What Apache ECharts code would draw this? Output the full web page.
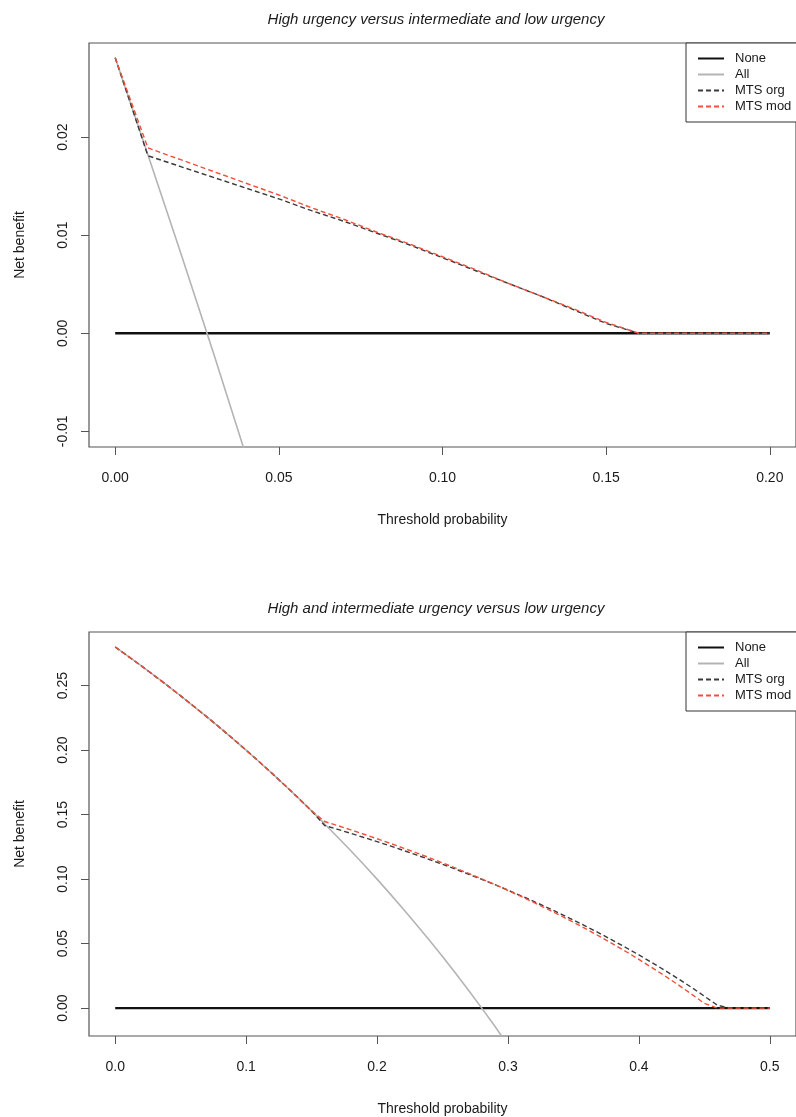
<!DOCTYPE html>
<html>
<head>
<meta charset="utf-8">
<script src="https://cdn.jsdelivr.net/npm/echarts@6/dist/echarts.min.js"></script>
<style>
html,body{margin:0;padding:0;background:#fff;}
#c{width:796px;height:1117px;}
</style>
</head>
<body>
<div id="c"></div>
<script>
// ---------- data: top panel ----------
const titles = ["High urgency versus intermediate and low urgency",
                "High and intermediate urgency versus low urgency"];
const legendNames = ["None", "All", "MTS org", "MTS mod"];

const t1 = [0.00,0.01,0.02,0.03,0.04,0.05,0.06,0.07,0.08,0.09,0.10,
            0.11,0.12,0.13,0.14,0.15,0.16,0.17,0.18,0.19,0.20];
const none1 = [0,0,0,0,0,0,0,0,0,0,0,0,0,0,0,0,0,0,0,0,0];
const all1x = [0.00,0.01,0.02,0.03,0.04,0.05];
const all1 = [0.0281,0.0182,0.0082,-0.0020,-0.0125,-0.0232];
const org1 = [0.0281,0.0181,0.0170,0.0159,0.0148,0.0137,0.0125,0.0114,0.0102,0.0090,0.0077,
              0.0064,0.0051,0.0038,0.0024,0.0010,0,0,0,0,0];
const mod1 = [0.0281,0.0189,0.0177,0.0165,0.0153,0.0141,0.0128,0.0116,0.0103,0.0091,0.0078,
              0.0065,0.0051,0.0038,0.0025,0.0011,0,0,0,0,0];
const xTicks1 = [0.00,0.05,0.10,0.15,0.20];
const yTicks1 = [-0.01,0.00,0.01,0.02];

// ---------- data: bottom panel ----------
const t2 = [0.00,0.01,0.02,0.03,0.04,0.05,0.06,0.07,0.08,0.09,0.10,
            0.11,0.12,0.13,0.14,0.15,0.16,0.17,0.18,0.19,0.20,
            0.21,0.22,0.23,0.24,0.25,0.26,0.27,0.28,0.29,0.30,
            0.31,0.32,0.33,0.34,0.35,0.36,0.37,0.38,0.39,0.40,
            0.41,0.42,0.43,0.44,0.45,0.46,0.47,0.48,0.49,0.50];
const none2 = [0,0,0,0,0,0,0,0,0,0,0,0,0,0,0,0,0,0,0,0,0,0,0,0,0,0,
               0,0,0,0,0,0,0,0,0,0,0,0,0,0,0,0,0,0,0,0,0,0,0,0,0];
const all2 = [0.2800,0.2727,0.2653,0.2577,0.2500,0.2421,0.2340,0.2258,0.2174,0.2088,0.2000,
              0.1910,0.1818,0.1724,0.1628,0.1529,0.1428,0.1325,0.1220,0.1111,0.1000,
              0.0886,0.0769,0.0649,0.0526,0.0400,0.0270,0.0137,0.0000,-0.0141,-0.0286];
const org2 = [0.2800,0.2727,0.2653,0.2577,0.2500,0.2421,0.2340,0.2258,0.2174,0.2088,0.2000,
              0.1910,0.1818,0.1724,0.1628,0.1529,0.1416,0.1386,0.1355,0.1323,0.1291,
              0.1258,0.1223,0.1188,0.1152,0.1115,0.1077,0.1038,0.0998,0.0957,0.0915,
              0.0871,0.0826,0.0780,0.0732,0.0683,0.0632,0.0580,0.0526,0.0470,0.0413,
              0.0353,0.0292,0.0228,0.0162,0.0093,0.0022,0,0,0,0];
const mod2 = [0.2800,0.2727,0.2653,0.2577,0.2500,0.2421,0.2340,0.2258,0.2174,0.2088,0.2000,
              0.1910,0.1818,0.1724,0.1628,0.1529,0.1447,0.1415,0.1382,0.1348,0.1313,
              0.1278,0.1241,0.1204,0.1166,0.1126,0.1086,0.1044,0.1002,0.0958,0.0912,
              0.0866,0.0818,0.0769,0.0718,0.0666,0.0612,0.0556,0.0498,0.0439,0.0378,
              0.0314,0.0249,0.0181,0.0110,0.0037,0,0,0,0,0];
const xTicks2 = [0.0,0.1,0.2,0.3,0.4,0.5];
const yTicks2 = [0.00,0.05,0.10,0.15,0.20,0.25];

// ---------- chart ----------
const FONT = '"Liberation Sans", Arial, Helvetica, sans-serif';
const TXT = '#1a1a1a';
const AX = '#555';
const pairs = (xs, ys) => ys.map((y, i) => [xs[i], y]);

function xAxisCfg(gi, min, max, ticks, dec) {
  return {
    gridIndex: gi, type: 'value', min: min, max: max,
    axisLine: { show: false, onZero: false },
    axisTick: { show: true, length: 8, customValues: ticks, lineStyle: { color: AX, width: 1 } },
    axisLabel: { customValues: ticks, formatter: v => Number(v).toFixed(dec), margin: 24,
                 fontFamily: FONT, fontSize: 14, color: TXT },
    splitLine: { show: false },
    name: 'Threshold probability', nameLocation: 'middle', nameGap: 66,
    nameTextStyle: { fontFamily: FONT, fontSize: 14, color: TXT }
  };
}
function yAxisCfg(gi, min, max, ticks) {
  return {
    gridIndex: gi, type: 'value', min: min, max: max,
    axisLine: { show: false, onZero: false },
    axisTick: { show: true, length: 8, customValues: ticks, lineStyle: { color: AX, width: 1 } },
    axisLabel: { customValues: ticks, formatter: v => Number(v).toFixed(2), margin: 19, rotate: 90,
                 fontFamily: FONT, fontSize: 14, color: TXT },
    splitLine: { show: false },
    name: 'Net benefit', nameLocation: 'middle', nameGap: 62, nameRotate: 90,
    nameTextStyle: { fontFamily: FONT, fontSize: 14, color: TXT }
  };
}
const styles = {
  'None':    { color: '#111111', width: 2.4, type: 'solid' },
  'All':     { color: '#b4b4b4', width: 1.6, type: 'solid' },
  'MTS org': { color: '#3a3a3a', width: 1.4, type: [5, 3] },
  'MTS mod': { color: '#f0503a', width: 1.4, type: [5, 3] }
};
function lineSeries(name, gi, data) {
  const s = styles[name];
  return {
    name: name, type: 'line', xAxisIndex: gi, yAxisIndex: gi, data: data,
    symbol: 'none', showSymbol: false, clip: true, animation: false,
    color: s.color, itemStyle: { color: s.color },
    lineStyle: { color: s.color, width: s.width, type: s.type }
  };
}
function legendCfg(top) {
  return {
    data: legendNames, orient: 'vertical', left: 686, top: top,
    padding: [9, 14, 9, 11], itemWidth: 26, itemHeight: 14, itemGap: 3,
    backgroundColor: '#fff', borderColor: '#333', borderWidth: 1, borderRadius: 0,
    selectedMode: false,
    itemStyle: { opacity: 0 },
    textStyle: { fontFamily: FONT, fontSize: 13, color: TXT, padding: [0, 0, 0, 6] }
  };
}

const chart = echarts.init(document.getElementById('c'), null, { renderer: 'canvas' });
chart.setOption({
  animation: false,
  backgroundColor: '#fff',
  title: [
    { text: titles[0], left: 436, top: 12, textAlign: 'center', padding: 0,
      textStyle: { fontFamily: FONT, fontSize: 15, fontStyle: 'italic', fontWeight: 'normal', color: TXT } },
    { text: titles[1], left: 436, top: 601, textAlign: 'center', padding: 0,
      textStyle: { fontFamily: FONT, fontSize: 15, fontStyle: 'italic', fontWeight: 'normal', color: TXT } }
  ],
  legend: [legendCfg(43), legendCfg(632)],
  grid: [
    { left: 89, top: 43, width: 710, height: 404, show: true, borderColor: AX, borderWidth: 1.2, backgroundColor: 'transparent' },
    { left: 89, top: 632, width: 710, height: 405, show: true, borderColor: AX, borderWidth: 1.2, backgroundColor: 'transparent' }
  ],
  xAxis: [ xAxisCfg(0, -0.008, 0.208, xTicks1, 2), xAxisCfg(1, -0.02, 0.52, xTicks2, 1) ],
  yAxis: [ yAxisCfg(0, -0.0116, 0.0296, yTicks1), yAxisCfg(1, -0.0216, 0.2916, yTicks2) ],
  series: [
    lineSeries('None', 0, pairs(t1, none1)),
    lineSeries('All', 0, pairs(all1x, all1)),
    lineSeries('MTS org', 0, pairs(t1, org1)),
    lineSeries('MTS mod', 0, pairs(t1, mod1)),
    lineSeries('None', 1, pairs(t2, none2)),
    lineSeries('All', 1, pairs(t2, all2)),
    lineSeries('MTS org', 1, pairs(t2, org2)),
    lineSeries('MTS mod', 1, pairs(t2, mod2))
  ]
});
</script>
</body>
</html>
